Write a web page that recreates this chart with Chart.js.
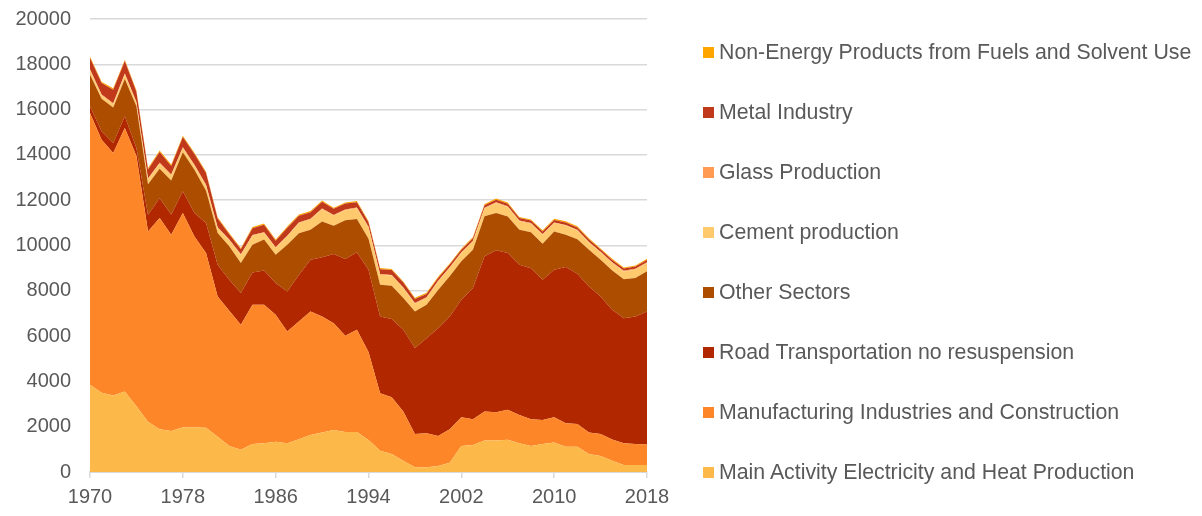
<!DOCTYPE html>
<html>
<head>
<meta charset="utf-8">
<script src="https://cdn.jsdelivr.net/npm/chart.js@4"></script>
<style>
	html, body { margin: 0; padding: 0; background: #fff; }
	#wrap { position: relative; width: 1202px; height: 516px; }
	#chart { display: block; }
	#legend { position: absolute; left: 703px; top: 0; font-family: "Liberation Sans", Arial, sans-serif; font-size: 21.3px; color: #595959; }
	.item { position: absolute; left: 0; white-space: nowrap; height: 24px; line-height: 24px; }
	.box { position: absolute; left: 0; top: 7px; width: 11px; height: 11px; }
	.txt { position: absolute; left: 16px; top: 0; }
</style>
</head>
<body>
<div id="wrap">
	<canvas id="chart" width="1202" height="516"></canvas>
	<div id="legend"></div>
</div>
<script>
// **DATOS**
const years = [];
for (let y = 1970; y <= 2018; y++) years.push(String(y));

const mainActivity = [3850, 3500, 3380, 3550, 2900, 2220, 1890, 1810, 1975, 1975,
	1950, 1560, 1150, 980, 1240, 1270, 1340, 1270, 1450, 1630,
	1740, 1850, 1770, 1770, 1410, 940, 800, 500, 210, 210,
	270, 410, 1150, 1190, 1390, 1390, 1420, 1270, 1150, 1240,
	1300, 1120, 1120, 800, 710, 500, 310, 310, 310];
const manufacturing = [12000, 11170, 10700, 11640, 11050, 8400, 9320, 8670, 9460, 8425,
	7720, 6190, 5970, 5520, 6140, 6110, 5600, 4930, 5190, 5460,
	5125, 4720, 4240, 4510, 3890, 2540, 2500, 2170, 1470, 1500,
	1320, 1480, 1270, 1140, 1280, 1250, 1330, 1250, 1180, 1060,
	1120, 1030, 1000, 940, 970, 940, 960, 930, 900];
const roadTransport = [290, 370, 440, 515, 350, 740, 880, 885, 955, 1030,
	1320, 1400, 1370, 1400, 1430, 1520, 1400, 1770, 2060, 2280,
	2620, 3050, 3390, 3420, 3630, 3390, 3450, 3610, 3790, 4200,
	4760, 4980, 5190, 5790, 6850, 7150, 6915, 6630, 6670, 6190,
	6510, 6900, 6630, 6450, 6070, 5720, 5520, 5630, 5880];
const otherSectors = [1400, 1440, 1570, 1650, 1850, 1340, 1300, 1510, 1730, 1910,
	1430, 1400, 1480, 1330, 1220, 1360, 1250, 2060, 1840, 1330,
	1570, 1250, 1710, 1470, 1370, 1400, 1470, 1400, 1620, 1470,
	1690, 1770, 1690, 1690, 1770, 1650, 1620, 1550, 1580, 1590,
	1690, 1430, 1530, 1620, 1620, 1740, 1720, 1700, 1770];
const cement = [200, 150, 150, 200, 150, 220, 220, 220, 180, 180,
	220, 220, 260, 350, 400, 300, 300, 370, 450, 450,
	550, 450, 450, 480, 500, 440, 450, 440, 340, 300,
	370, 370, 370, 370, 350, 440, 420, 370, 380, 400,
	370, 400, 380, 320, 320, 330, 340, 370, 370];
const glass = [40, 40, 40, 40, 40, 40, 40, 40, 40, 40,
	40, 40, 30, 30, 30, 30, 30, 30, 30, 30,
	30, 30, 30, 30, 30, 30, 30, 30, 30, 30,
	30, 30, 30, 30, 30, 30, 30, 30, 30, 30,
	30, 30, 30, 30, 30, 30, 30, 30, 30];
const metal = [500, 500, 600, 550, 450, 400, 480, 380, 450, 480,
	520, 380, 240, 220, 300, 330, 290, 350, 290, 290,
	300, 270, 260, 230, 200, 215, 215, 215, 180, 150,
	130, 120, 110, 110, 110, 110, 110, 110, 110, 110,
	110, 110, 110, 110, 100, 100, 100, 100, 100];
const nonEnergy = [60, 60, 60, 60, 60, 60, 60, 60, 60, 60,
	55, 55, 55, 55, 55, 55, 55, 55, 55, 55,
	50, 50, 50, 50, 50, 50, 50, 50, 50, 50,
	50, 50, 50, 50, 50, 50, 50, 50, 50, 50,
	50, 50, 50, 50, 50, 50, 50, 50, 50];

const seriesNames = [
	'Main Activity Electricity and Heat Production',
	'Manufacturing Industries and Construction',
	'Road Transportation no resuspension',
	'Other Sectors',
	'Cement production',
	'Glass Production',
	'Metal Industry',
	'Non-Energy Products from Fuels and Solvent Use'
];
const seriesValues = [mainActivity, manufacturing, roadTransport, otherSectors, cement, glass, metal, nonEnergy];
const seriesColors = ['#FDB84A', '#FD8628', '#B12800', '#AD4D00', '#FFC96E', '#FF9B52', '#C1391B', '#FFA500'];

const yTicks = [0, 2000, 4000, 6000, 8000, 10000, 12000, 14000, 16000, 18000, 20000];

// **GRÁFICO**
function buildDatasets() {
	return seriesNames.map((name, i) => ({
		label: name,
		data: seriesValues[i],
		backgroundColor: seriesColors[i],
		borderColor: seriesColors[i],
		borderWidth: 0,
		pointRadius: 0,
		tension: 0,
		fill: i === 0 ? 'origin' : '-1',
	}));
}

function createAreaChart() {
	const tickFont = { family: '"Liberation Sans", Arial, sans-serif', size: 20 };
	new Chart(document.getElementById('chart'), {
		type: 'line',
		data: { labels: years, datasets: buildDatasets() },
		options: {
			responsive: false,
			animation: false,
			devicePixelRatio: 1,
			layout: { padding: { top: 19, right: 555, left: 0, bottom: 0 } },
			plugins: { legend: { display: false }, tooltip: { enabled: false } },
			scales: {
				x: {
					type: 'category',
					grid: {
						drawOnChartArea: false,
						drawTicks: true,
						tickLength: 6,
						lineWidth: 1.5,
						color: ctx => (ctx.index % 8 === 0 ? '#D9D9D9' : 'rgba(0,0,0,0)'),
					},
					border: { display: true, color: '#D9D9D9', width: 2 },
					ticks: {
						autoSkip: false,
						maxRotation: 0,
						padding: 7,
						color: '#595959',
						font: tickFont,
						callback: (v, i) => (i % 8 === 0 ? years[i] : ''),
					},
					afterFit: scale => { scale.height = 44; },
				},
				y: {
					stacked: true,
					min: 0,
					max: 20000,
					afterBuildTicks: scale => { scale.ticks = yTicks.map(v => ({ value: v })); },
					grid: { color: '#D9D9D9', lineWidth: 1.5, drawTicks: false },
					border: { display: false },
					ticks: {
						padding: 19,
						color: '#595959',
						font: tickFont,
						callback: v => String(v),
					},
					afterFit: scale => {
						scale.width = 90;
						scale.paddingTop = 0;
						scale.paddingBottom = 0;
					},
				},
			},
		},
	});
}

// **LEYENDA**
function buildLegend() {
	const legend = document.getElementById('legend');
	for (let k = 0; k < seriesNames.length; k++) {
		const i = seriesNames.length - 1 - k;
		const item = document.createElement('div');
		item.className = 'item';
		item.style.top = (52 + 60 * k - 12) + 'px';
		item.innerHTML = '<span class="box" style="background:' + seriesColors[i] + '"></span><span class="txt"></span>';
		item.querySelector('.txt').textContent = seriesNames[i];
		legend.appendChild(item);
	}
}

createAreaChart();
buildLegend();
</script>
</body>
</html>
